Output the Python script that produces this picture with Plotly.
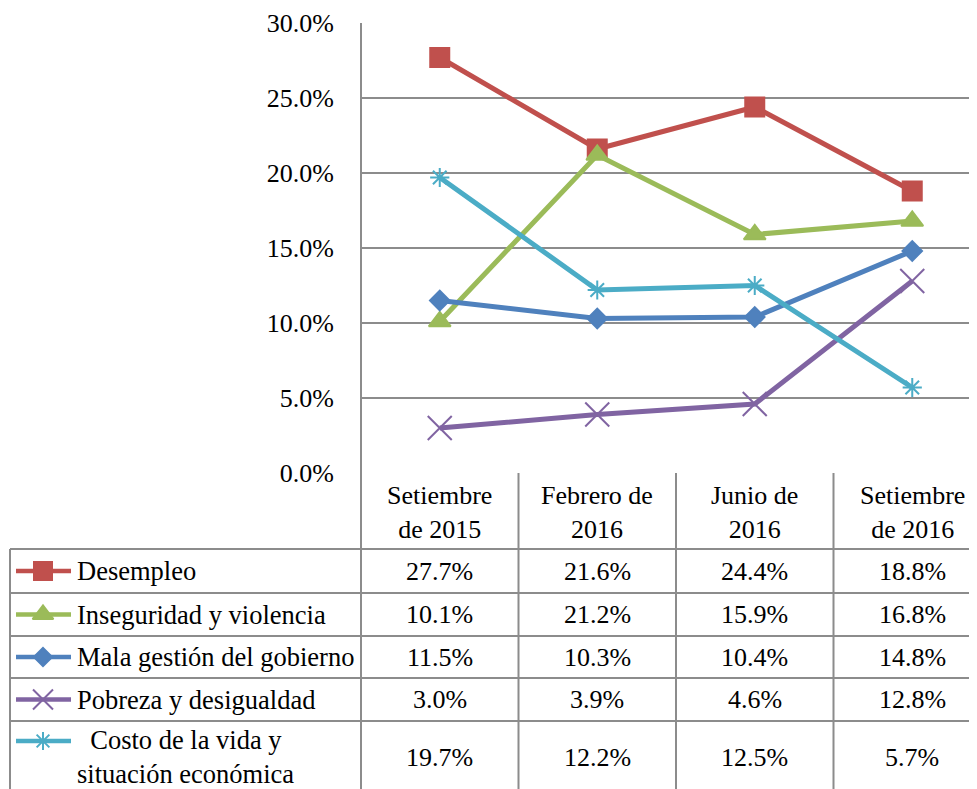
import plotly.graph_objects as go

# ---------------- data ----------------
categories = ["Setiembre<br>de 2015", "Febrero de<br>2016", "Junio de<br>2016", "Setiembre<br>de 2016"]
series_names = ["Desempleo", "Inseguridad y violencia", "Mala gestión del gobierno",
                "Pobreza y desigualdad", "\u00a0\u00a0Costo de la vida y<br>situación económica"]
desempleo = [27.7, 21.6, 24.4, 18.8]
inseguridad = [10.1, 21.2, 15.9, 16.8]
mala_gestion = [11.5, 10.3, 10.4, 14.8]
pobreza = [3.0, 3.9, 4.6, 12.8]
costo_vida = [19.7, 12.2, 12.5, 5.7]
y_ticks = [0, 5, 10, 15, 20, 25, 30]

series_values = [desempleo, inseguridad, mala_gestion, pobreza, costo_vida]
colors = ["#C0504D", "#9BBB59", "#4F81BD", "#8064A2", "#4BACC6"]
symbols = ["square", "triangle-up", "diamond", "x-thin-open", "asterisk-open"]
msizes = [19, 19, 15, 24, 16]
key_sizes = [18, 18, 14, 20, 15]

# ---------------- layout constants (pixels of the 977x789 window) ----------------
VW, VH = 977, 789          # browser window
OFF = 8                    # default page body margin
W, H = VW - OFF, VH - OFF  # figure size
PL, PR, PT, PB = 361, 977, 23, 473
COLW = 157.5
row_lines = [549, 593, 636, 678, 721]
row_centers = [571, 614.5, 657, 699.5, 757]
key_y = [571, 614.5, 657, 699.5, 741]
GRID = "#8c8c8c"
FONT = "Liberation Serif"
FS = 26
FS_LEG = 26.5

x_idx = list(range(len(categories)))

fig = go.Figure()

for name, vals, c, sym, ms in zip(series_names, series_values, colors, symbols, msizes):
    fig.add_trace(go.Scatter(
        x=x_idx, y=vals, mode="lines+markers", name=name,
        line=dict(color=c, width=5),
        marker=dict(symbol=sym, size=ms, color=c, line=dict(color=c, width=2)),
        xaxis="x", yaxis="y", showlegend=False, cliponaxis=False))

# legend keys in table (pixel axes x2/y2)
for i, (c, sym, ks) in enumerate(zip(colors, symbols, key_sizes)):
    fig.add_trace(go.Scatter(x=[16, 71], y=[key_y[i], key_y[i]], mode="lines",
                             line=dict(color=c, width=4.5), xaxis="x2", yaxis="y2",
                             showlegend=False, hoverinfo="skip"))
    fig.add_trace(go.Scatter(x=[43], y=[key_y[i]], mode="markers",
                             marker=dict(symbol=sym, size=ks, color=c, line=dict(color=c, width=2)),
                             xaxis="x2", yaxis="y2", showlegend=False, hoverinfo="skip"))

shapes = []
def hline(y, x0, x1):
    shapes.append(dict(type="line", xref="x2", yref="y2", x0=x0, x1=x1, y0=y, y1=y,
                       line=dict(color=GRID, width=2), layer="below"))
def vline_px(x, y0, y1):
    shapes.append(dict(type="line", xref="x2", yref="y2", x0=x, x1=x, y0=y0, y1=y1,
                       line=dict(color=GRID, width=2), layer="below"))

for y in row_lines:
    hline(y, 10, VW)
vline_px(10, row_lines[0], VH)
vline_px(PL, PT, VH)
for b in [0.5, 1.5, 2.5]:
    shapes.append(dict(type="line", xref="x", yref="y2", x0=b, x1=b, y0=PB, y1=VH,
                       line=dict(color=GRID, width=2), layer="below"))

annotations = []
for i, cat in enumerate(categories):
    annotations.append(dict(x=i, y=512, xref="x", yref="y2", text=cat, showarrow=False,
                            font=dict(family=FONT, size=FS, color="black"), align="center"))
for r, (name, vals) in enumerate(zip(series_names, series_values)):
    ny = row_centers[r] if r < 4 else 757
    annotations.append(dict(x=75, y=ny, xref="x2", yref="y2", text=name, showarrow=False,
                            xanchor="left", align="left",
                            font=dict(family=FONT, size=FS_LEG, color="black")))
    for i, v in enumerate(vals):
        annotations.append(dict(x=i, y=row_centers[r], xref="x", yref="y2", text=f"{v:.1f}%",
                                showarrow=False, font=dict(family=FONT, size=FS, color="black")))

fig.update_layout(
    template="none",
    width=W, height=H, autosize=False,
    margin=dict(l=0, r=0, t=0, b=0, pad=0),
    paper_bgcolor="white", plot_bgcolor="rgba(0,0,0,0)",
    font=dict(family=FONT, size=FS, color="black"),
    xaxis=dict(domain=[(PL - OFF) / W, 1], range=[-0.5, -0.5 + (PR - PL) / COLW],
               showticklabels=False, showgrid=False, zeroline=False, showline=False,
               ticks="", anchor="y", automargin=False),
    yaxis=dict(domain=[(VH - PB) / H, (VH - PT) / H], range=[0, 30], tickvals=y_ticks,
               ticktext=[f"{t:.1f}%" for t in y_ticks], showgrid=True, gridcolor=GRID,
               gridwidth=2, zeroline=False, showline=False, ticks="",
               ticklabelstandoff=26, anchor="x", automargin=False,
               tickfont=dict(family=FONT, size=FS, color="black")),
    xaxis2=dict(domain=[0, 1], range=[OFF, VW], visible=False, anchor="y2", automargin=False),
    yaxis2=dict(domain=[0, 1], range=[VH, OFF], visible=False, anchor="x2", automargin=False),
    shapes=shapes, annotations=annotations,
)

fig.write_html("out.html")
